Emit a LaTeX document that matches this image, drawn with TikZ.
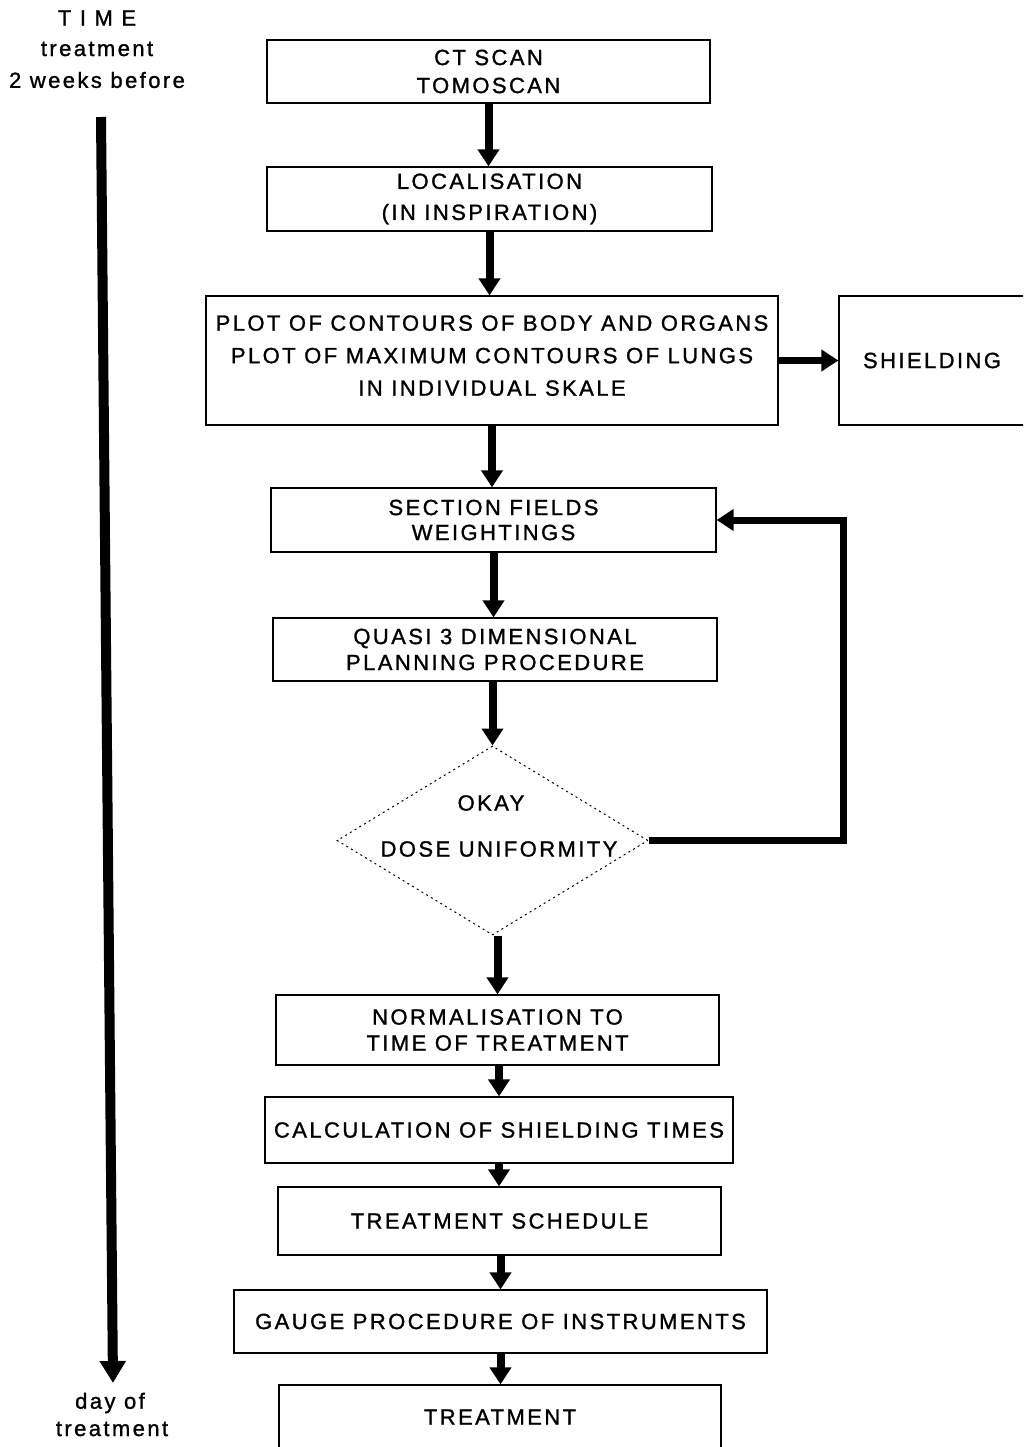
\documentclass[tikz,border=0pt]{standalone}
\usepackage{fontspec}
\setmainfont[LetterSpace=11,FakeBold=1.2]{Liberation Sans}
\usetikzlibrary{arrows.meta,shapes.geometric}
\begin{document}
\begin{tikzpicture}[x=1pt,y=-1pt,
  box/.style={draw, line width=1.3pt, inner sep=0pt, align=center, font=\fontsize{22}{28}\selectfont},
  flow/.style={line width=8pt, -{Triangle[length=17pt,width=21pt]}},
  txt/.style={inner sep=0pt, font=\fontsize{22}{28}\selectfont}]
\clip (0,0) rectangle (1023,1447);
\fill[white] (0,0) rectangle (1023,1447);
% boxes
\node[box, minimum width=443, minimum height=63] (ct) at (488.5,71.5) {CT SCAN\\TOMOSCAN};
\node[box, minimum width=445, minimum height=64, font=\fontsize{22}{31}\selectfont] (loc) at (489.5,199) {LOCALISATION\\(IN INSPIRATION)};
\node[box, minimum width=572, minimum height=129, text depth=10pt, font=\fontsize{22}{32.5}\selectfont] (plot) at (492,360.5) {PLOT OF CONTOURS OF BODY AND ORGANS\\PLOT OF MAXIMUM CONTOURS OF LUNGS\\IN INDIVIDUAL SKALE};
\node[box, minimum width=186, minimum height=129] (shield) at (932,360.5) {SHIELDING};
\node[box, minimum width=445, minimum height=64, font=\fontsize{22}{25}\selectfont] (sec) at (493.5,520) {SECTION FIELDS\\WEIGHTINGS};
\node[box, minimum width=444, minimum height=63, font=\fontsize{22}{26}\selectfont] (quasi) at (495,649.5) {QUASI 3 DIMENSIONAL\\PLANNING PROCEDURE};
\node[diamond, draw, line width=1pt, dash pattern=on 2pt off 3.5pt, minimum width=311, minimum height=189, inner sep=0pt] (dia) at (492.5,840.5) {};
\node[txt] (okay) at (491,803) {OKAY};
\node[txt] (dose) at (499,849) {DOSE UNIFORMITY};
\node[box, minimum width=443, minimum height=70, font=\fontsize{22}{26}\selectfont] (norm) at (497.5,1030) {NORMALISATION TO\\TIME OF TREATMENT};
\node[box, minimum width=468, minimum height=66] (calc) at (499,1130) {CALCULATION OF SHIELDING TIMES};
\node[box, minimum width=443, minimum height=68] (sched) at (499.5,1221) {TREATMENT SCHEDULE};
\node[box, minimum width=533, minimum height=63] (gauge) at (500.5,1321.5) {GAUGE PROCEDURE OF INSTRUMENTS};
\node[box, minimum width=442, minimum height=64] (treat) at (500,1417) {TREATMENT};
% connectors
\draw[flow] (ct.south) -- (ct.south |- loc.north);
\draw[flow] (loc.south) -- (loc.south |- plot.north);
\draw[flow] (plot.south) -- (plot.south |- sec.north);
\draw[flow] (sec.south) -- (sec.south |- quasi.north);
\draw[flow] (quasi.south -| dia.north) -- (dia.north);
\draw[flow] (norm.north |- dia.south) -- (norm.north);
\draw[flow] (calc.north |- norm.south) -- (calc.north);
\draw[flow] (calc.south) -- (calc.south |- sched.north);
\draw[flow] (gauge.north |- sched.south) -- (gauge.north);
\draw[flow] (gauge.south) -- (gauge.south |- treat.north);
\draw[flow, line width=7pt] (plot.east) -- (shield.west);
\draw[flow, line width=7pt, line join=miter] (dia.east) -- ++(195,0) |- (sec.east);
% time axis
\node[txt] (time) at (97,18) {T I M E};
\node[txt] (tr1) at (97,49) {treatment};
\node[txt] (wk) at (97,80) {2 weeks before};
\coordinate (t0) at (101,117);
\coordinate (t1) at (113,1383);
\draw[line width=10pt, -{Triangle[length=22pt,width=25pt]}] (t0) -- (t1);
\node[txt] (day) at (110,1403) {day of};
\node[txt] (tr2) at (112,1429) {treatment};
\end{tikzpicture}
\end{document}
